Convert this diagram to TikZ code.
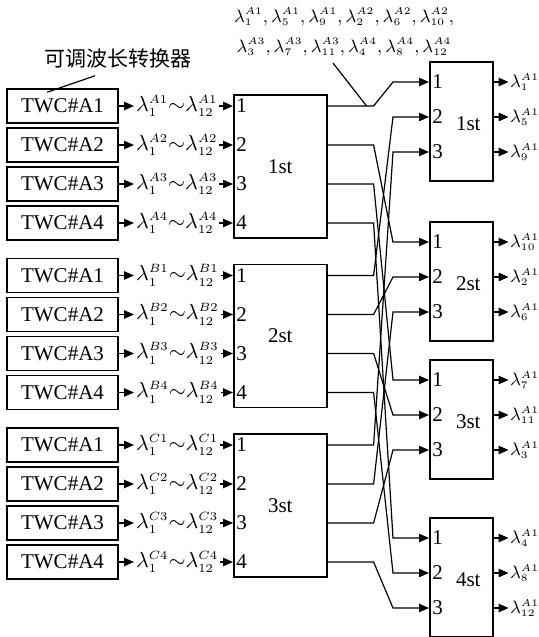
\documentclass[tikz,border=0pt]{standalone}
\usepackage{amsmath,amssymb}
\usepackage{fontspec}
\setmainfont{Liberation Serif}
\newfontfamily\cjk{Noto Sans CJK SC}
\usepackage{tikz}
\usetikzlibrary{positioning,arrows.meta,calc}
\DeclareMathSizes{10.5}{10.5}{6}{5}
\DeclareMathSizes{9.5}{9.5}{5.5}{4.5}
\tikzset{
  caja/.style={rectangle, draw, line width=0.8pt, minimum width=55.5pt,
    minimum height=17pt},
  multi/.style={rectangle, draw, line width=0.8pt, minimum width=46.5pt,
    minimum height=71.5pt, anchor=north west},
  demulti/.style={rectangle, draw, line width=0.8pt, minimum width=31.5pt,
    minimum height=59.5pt, anchor=north west},
  flecha/.style={-{Triangle[length=5pt,width=4.2pt]}, line width=0.6pt},
  etq/.style={inner sep=0.8pt},
  num/.style={anchor=west, inner sep=1.5pt},
}

\begin{document}
\begin{tikzpicture}[x=0.5pt, y=-0.5pt, font=\fontsize{10.5}{12}\selectfont]
  \useasboundingbox (0,0) rectangle (538,637);
  % salidas: demultiplexores 1st..4st
  \foreach \k/\tp/\na/\nb/\nc in {1/61/1/5/9,2/221/10/2/6,3/359/7/11/3,4/517/4/8/12}{
    \node[demulti] (d\k) at (429,\tp) {};
    \node (dl\k) at ($(d\k.center)+(7,2)$) {\k st};
    \foreach \j/\n in {1/\na,2/\nb,3/\nc}{
      \coordinate (e\k\j) at ($(d\k.north west)+(0,{21+35*(\j-1)})$);
      \node[num] (dn\k\j) at (e\k\j) {\j};
      \draw[flecha] (e\k\j -| d\k.east) -- ++(15,0)
        node[etq, right, inner sep=0.5pt, font=\fontsize{9.5}{11}\selectfont] (s\k\j) {$\lambda_{\n}^{A1}$};
    }
  }
  % entradas: TWC y multiplexores
  \foreach \g/\gl in {0/A,1/B,2/C}{
    \pgfmathsetmacro\yb{106+169.5*\g}
    \pgfmathtruncatemacro\h{\g+1}
    \node[multi] (m\g) at (233,\yb-12) {\h st};
    \foreach \k in {1,...,4}{
      \pgfmathsetmacro\yy{\yb+39*(\k-1)}
      \node[caja] (t\g\k) at (62.5,\yy) {TWC\#A\k};
      \node[etq, anchor=west] (l\g\k) at (134,\yy) {$\lambda_1^{\gl\k}{\sim}\lambda_{12}^{\gl\k}$};
      \draw[flecha] (t\g\k.east) -- (l\g\k.west);
      \draw[flecha] (l\g\k.east) -- (l\g\k.east -| m\g.west);
      \node[num] (n\g\k) at (l\g\k.east -| m\g.west) {\k};
      \draw[flecha] (l\g\k.east -| m\g.east) -- ++(46,0) -- ($(e\k\h)+(-36,0)$) -- (e\k\h);
    }
  }
  % etiquetas
  \node[align=center, font=\fontsize{9.5}{15}\selectfont] (lista) at (344,32)
    {$\lambda_1^{A1}{,}\,\lambda_5^{A1}{,}\,\lambda_9^{A1}{,}\,\lambda_2^{A2}{,}\,\lambda_6^{A2}{,}\,\lambda_{10}^{A2}{,}$\\
     $\lambda_3^{A3}{,}\,\lambda_7^{A3}{,}\,\lambda_{11}^{A3}{,}\,\lambda_4^{A4}{,}\,\lambda_8^{A4}{,}\,\lambda_{12}^{A4}$};
  \coordinate (p1) at ($(m0.east |- l01)+(39,0)$);
  \draw[line width=0.6pt] ([xshift=-5.5pt]lista.south) -- (p1);
  \node[font=\fontsize{10.5}{12}\selectfont\cjk] (zh) at (118,59) {可调波长转换器};
  \coordinate (p2) at ($(t01.north west)+(41,4)$);
  \draw[line width=0.6pt] ([xshift=-11.5pt]zh.south) -- (p2);
\end{tikzpicture}
\end{document}
